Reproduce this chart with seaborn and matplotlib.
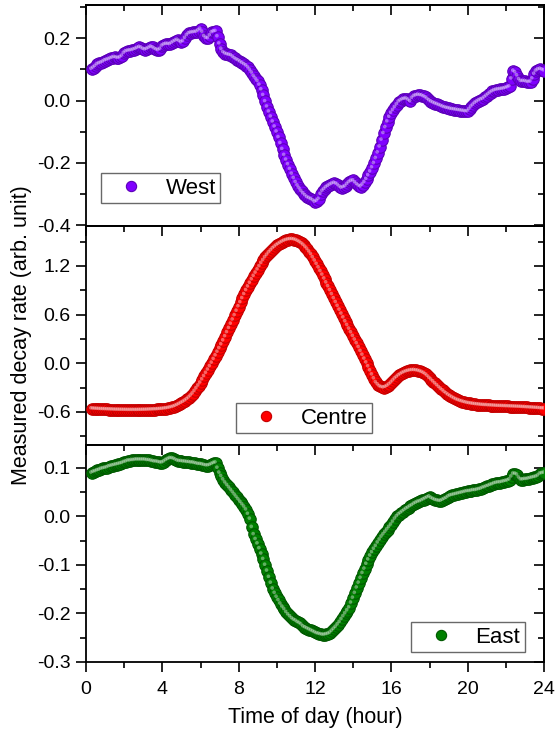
import numpy as np
import pandas as pd
import matplotlib
matplotlib.use("Agg")
import matplotlib.pyplot as plt
import seaborn as sns
from matplotlib.ticker import MultipleLocator, FormatStrFormatter
from matplotlib.lines import Line2D
from matplotlib.transforms import offset_copy

# ---------------- data ----------------
hours = np.round(np.arange(3, 241) * 0.1, 1)   # sampling grid 0.3 ... 24.0 h

west = [
    0.101, 0.105, 0.110, 0.116, 0.119, 0.121, 0.124, 0.128,
    0.130, 0.132, 0.135, 0.137, 0.139, 0.137, 0.136, 0.138, 0.143, 0.152,
    0.157, 0.159, 0.160, 0.161, 0.163, 0.165, 0.168, 0.171, 0.169, 0.165,
    0.163, 0.165, 0.168, 0.172, 0.170, 0.166, 0.163, 0.161, 0.165, 0.175,
    0.179, 0.181, 0.181, 0.180, 0.184, 0.188, 0.191, 0.194, 0.190, 0.186,
    0.190, 0.200, 0.209, 0.215, 0.217, 0.218, 0.219, 0.220, 0.224, 0.229,
    0.220, 0.206, 0.200, 0.199, 0.208, 0.218, 0.221, 0.222, 0.205, 0.182,
    0.165, 0.155, 0.150, 0.148, 0.146, 0.145, 0.140, 0.135, 0.131, 0.128,
    0.124, 0.120, 0.116, 0.112, 0.106, 0.098, 0.089, 0.078, 0.070, 0.062,
    0.050, 0.035, 0.017, -0.003, -0.020, -0.036, -0.052, -0.068, -0.084, -0.100,
    -0.118, -0.137, -0.156, -0.175, -0.190, -0.205, -0.220, -0.235, -0.249, -0.262,
    -0.273, -0.282, -0.291, -0.298, -0.304, -0.310, -0.313, -0.316, -0.320, -0.325,
    -0.322, -0.316, -0.300, -0.290, -0.284, -0.278, -0.274, -0.270, -0.267, -0.264,
    -0.266, -0.270, -0.276, -0.280, -0.278, -0.275, -0.268, -0.262, -0.258, -0.256,
    -0.262, -0.268, -0.273, -0.276, -0.270, -0.262, -0.252, -0.240, -0.228, -0.215,
    -0.201, -0.185, -0.167, -0.148, -0.126, -0.105, -0.086, -0.068, -0.053, -0.040,
    -0.031, -0.022, -0.013, -0.004, 0.000, 0.004, 0.005, 0.006, 0.002, -0.003,
    0.008, 0.014, 0.016, 0.018, 0.017, 0.016, 0.013, 0.010, 0.005, 0.000,
    -0.004, -0.007, -0.010, -0.012, -0.015, -0.017, -0.020, -0.022, -0.024, -0.025,
    -0.027, -0.028, -0.029, -0.030, -0.031, -0.032, -0.033, -0.034, -0.035, -0.035,
    -0.028, -0.020, -0.014, -0.008, -0.004, 0.000, 0.003, 0.005, 0.010, 0.015,
    0.020, 0.025, 0.029, 0.032, 0.034, 0.035, 0.036, 0.037, 0.038, 0.040,
    0.042, 0.045, 0.070, 0.095, 0.090, 0.080, 0.068, 0.062, 0.062, 0.062,
    0.060, 0.059, 0.060, 0.070, 0.085, 0.095, 0.099, 0.101, 0.099, 0.096,
]

centre = [
    -0.558, -0.560, -0.562, -0.563, -0.565, -0.566, -0.567, -0.568,
    -0.569, -0.570, -0.571, -0.572, -0.573, -0.574, -0.574, -0.575, -0.575, -0.576,
    -0.576, -0.577, -0.577, -0.577, -0.577, -0.577, -0.577, -0.576, -0.576, -0.575,
    -0.575, -0.574, -0.573, -0.572, -0.571, -0.570, -0.569, -0.567, -0.565, -0.563,
    -0.560, -0.557, -0.553, -0.548, -0.542, -0.535, -0.526, -0.515, -0.503, -0.490,
    -0.477, -0.462, -0.445, -0.425, -0.401, -0.375, -0.344, -0.310, -0.276, -0.240,
    -0.200, -0.160, -0.120, -0.080, -0.038, 0.005, 0.050, 0.095, 0.140, 0.185,
    0.232, 0.280, 0.330, 0.380, 0.432, 0.485, 0.537, 0.590, 0.645, 0.700,
    0.750, 0.800, 0.850, 0.900, 0.945, 0.990, 1.033, 1.075, 1.115, 1.155,
    1.195, 1.235, 1.270, 1.305, 1.335, 1.365, 1.390, 1.415, 1.435, 1.455,
    1.470, 1.485, 1.498, 1.510, 1.518, 1.525, 1.528, 1.530, 1.526, 1.520,
    1.508, 1.495, 1.478, 1.460, 1.436, 1.410, 1.378, 1.345, 1.305, 1.265,
    1.223, 1.180, 1.135, 1.090, 1.043, 0.995, 0.948, 0.900, 0.850, 0.800,
    0.753, 0.705, 0.658, 0.610, 0.563, 0.515, 0.470, 0.425, 0.380, 0.335,
    0.290, 0.245, 0.198, 0.150, 0.103, 0.055, 0.008, -0.040, -0.090, -0.140,
    -0.188, -0.235, -0.262, -0.285, -0.295, -0.300, -0.293, -0.280, -0.262, -0.240,
    -0.215, -0.190, -0.170, -0.150, -0.135, -0.120, -0.110, -0.100, -0.094, -0.088,
    -0.086, -0.085, -0.088, -0.092, -0.099, -0.108, -0.120, -0.135, -0.156, -0.180,
    -0.202, -0.225, -0.248, -0.270, -0.293, -0.315, -0.335, -0.355, -0.373, -0.390,
    -0.405, -0.420, -0.433, -0.445, -0.455, -0.463, -0.471, -0.478, -0.484, -0.490,
    -0.494, -0.498, -0.502, -0.505, -0.508, -0.510, -0.513, -0.515, -0.517, -0.518,
    -0.520, -0.521, -0.523, -0.524, -0.526, -0.527, -0.528, -0.529, -0.530, -0.531,
    -0.532, -0.533, -0.534, -0.535, -0.536, -0.537, -0.538, -0.539, -0.541, -0.542,
    -0.544, -0.545, -0.547, -0.548, -0.550, -0.551, -0.553, -0.555, -0.557, -0.558,
]

east = [
    0.090, 0.092, 0.093, 0.095, 0.096, 0.098, 0.099, 0.100,
    0.101, 0.103, 0.104, 0.105, 0.106, 0.107, 0.108, 0.109, 0.110, 0.112,
    0.113, 0.115, 0.115, 0.116, 0.116, 0.117, 0.117, 0.117, 0.117, 0.117,
    0.117, 0.116, 0.116, 0.115, 0.114, 0.113, 0.113, 0.112, 0.111, 0.111,
    0.113, 0.116, 0.118, 0.120, 0.120, 0.119, 0.117, 0.115, 0.114, 0.114,
    0.113, 0.113, 0.112, 0.112, 0.111, 0.111, 0.110, 0.109, 0.108, 0.108,
    0.107, 0.106, 0.105, 0.105, 0.106, 0.108, 0.110, 0.111, 0.100, 0.090,
    0.083, 0.076, 0.070, 0.065, 0.060, 0.055, 0.050, 0.045, 0.040, 0.035,
    0.030, 0.025, 0.020, 0.014, 0.005, -0.005, -0.022, -0.037, -0.047, -0.056,
    -0.066, -0.077, -0.088, -0.100, -0.112, -0.125, -0.137, -0.149, -0.158, -0.166,
    -0.173, -0.180, -0.186, -0.191, -0.197, -0.202, -0.206, -0.210, -0.213, -0.215,
    -0.218, -0.220, -0.223, -0.227, -0.229, -0.231, -0.233, -0.235, -0.237, -0.239,
    -0.241, -0.242, -0.243, -0.244, -0.244, -0.243, -0.242, -0.240, -0.236, -0.232,
    -0.228, -0.223, -0.218, -0.212, -0.206, -0.200, -0.194, -0.188, -0.178, -0.168,
    -0.158, -0.147, -0.137, -0.127, -0.117, -0.108, -0.098, -0.089, -0.081, -0.074,
    -0.067, -0.061, -0.054, -0.048, -0.042, -0.037, -0.032, -0.027, -0.022, -0.017,
    -0.011, -0.005, 0.000, 0.004, 0.007, 0.010, 0.013, 0.016, 0.018, 0.021,
    0.023, 0.026, 0.028, 0.030, 0.031, 0.033, 0.035, 0.037, 0.039, 0.041,
    0.038, 0.036, 0.034, 0.033, 0.032, 0.032, 0.034, 0.036, 0.038, 0.041,
    0.043, 0.044, 0.045, 0.046, 0.047, 0.048, 0.049, 0.050, 0.051, 0.052,
    0.052, 0.053, 0.054, 0.054, 0.055, 0.056, 0.057, 0.059, 0.060, 0.062,
    0.063, 0.065, 0.066, 0.068, 0.069, 0.070, 0.070, 0.071, 0.072, 0.073,
    0.074, 0.076, 0.082, 0.088, 0.088, 0.086, 0.080, 0.076, 0.076, 0.077,
    0.077, 0.078, 0.079, 0.080, 0.081, 0.082, 0.084, 0.088, 0.089, 0.090,
]

series_names = ["West", "Centre", "East"]
x_label = "Time of day (hour)"
y_label = "Measured decay rate (arb. unit)"

# ---------------- style ----------------
sns.set_style("ticks")
plt.rcParams["font.family"] = ["Liberation Sans", "DejaVu Sans"]
plt.rcParams["axes.unicode_minus"] = False
for key in ("text.color", "axes.labelcolor", "xtick.color", "ytick.color",
            "axes.edgecolor"):
    plt.rcParams[key] = "black"

fig = plt.figure(figsize=(5.58, 7.35), dpi=100)
W, H = 558, 735
left, width = 86 / W, 458 / W

panels = [
    dict(name=series_names[0], data=west, top=5, bottom=226, ylim=(-0.402, 0.306),
         major=0.2, minor=0.1, face="#8000ff", edge="#5c00b8", hl="#eadcff",
         anchor=(0.033, 0.104)),
    dict(name=series_names[1], data=centre, top=226, bottom=445, ylim=(-1.007, 1.693),
         major=0.6, minor=0.3, face="#ff0000", edge="#c40000", hl="#ffdada",
         anchor=(0.3275, 0.055)),
    dict(name=series_names[2], data=east, top=445, bottom=662, ylim=(-0.300, 0.1474),
         major=0.1, minor=0.05, face="#008000", edge="#005800", hl="#d8ecd8",
         anchor=(0.7096, 0.046)),
]

axes = []
for i, p in enumerate(panels):
    ax = fig.add_axes([left, 1 - p["bottom"] / H, width, (p["bottom"] - p["top"]) / H])
    axes.append(ax)
    df = pd.DataFrame({"hour": hours, "value": p["data"]})
    sns.scatterplot(data=df, x="hour", y="value", ax=ax, s=68, color=p["face"],
                    edgecolor=p["edge"], linewidth=0.8, legend=False, zorder=3)
    hl_tr = offset_copy(ax.transData, fig=fig, x=-0.8, y=0.8, units="dots")
    sns.scatterplot(data=df, x="hour", y="value", ax=ax, s=7, color=p["hl"],
                    edgecolor="none", linewidth=0, alpha=0.45, legend=False,
                    zorder=4, transform=hl_tr)

    ax.set_xlim(0, 24)
    ax.set_ylim(*p["ylim"])
    ax.xaxis.set_major_locator(MultipleLocator(4))
    ax.xaxis.set_minor_locator(MultipleLocator(2))
    ax.yaxis.set_major_locator(MultipleLocator(p["major"]))
    ax.yaxis.set_minor_locator(MultipleLocator(p["minor"]))
    ax.yaxis.set_major_formatter(FormatStrFormatter("%.1f"))
    ax.set_xlabel("")
    ax.set_ylabel("")
    for sp in ax.spines.values():
        sp.set_visible(True)
        sp.set_linewidth(1.3)
        sp.set_color("black")
    ax.tick_params(axis="both", which="major", direction="out", length=7, width=1.2,
                   labelsize=14, top=False, right=False, pad=4, colors="black")
    ax.tick_params(axis="both", which="minor", direction="out", length=4, width=1.2,
                   top=False, right=False)
    ax.tick_params(axis="x", which="major", pad=7)
    if i < 2:
        ax.tick_params(axis="x", labelbottom=False)

    # mirrored inward ticks on top and right
    sec_x = ax.secondary_xaxis("top")
    sec_x.xaxis.set_major_locator(MultipleLocator(4))
    sec_x.xaxis.set_minor_locator(MultipleLocator(2))
    sec_x.tick_params(which="major", direction="in", length=7, width=1.2, labeltop=False)
    sec_x.tick_params(which="minor", direction="in", length=4, width=1.2)
    sec_y = ax.secondary_yaxis("right")
    sec_y.yaxis.set_major_locator(MultipleLocator(p["major"]))
    sec_y.yaxis.set_minor_locator(MultipleLocator(p["minor"]))
    sec_y.tick_params(which="major", direction="in", length=7, width=1.2, labelright=False)
    sec_y.tick_params(which="minor", direction="in", length=4, width=1.2)
    for sec in (sec_x, sec_y):
        for sp in sec.spines.values():
            sp.set_linewidth(1.3)

    handle = Line2D([], [], linestyle="none", marker="o", markersize=7.4,
                    markerfacecolor=p["face"], markeredgecolor=p["edge"],
                    markeredgewidth=0.8)
    leg = ax.legend([handle], [p["name"]], loc="lower left",
                    bbox_to_anchor=p["anchor"], borderaxespad=0, fontsize=16,
                    frameon=True, fancybox=False, borderpad=0.2,
                    handlelength=2.3, handletextpad=0.4)
    leg.get_frame().set_edgecolor("#444444")
    leg.get_frame().set_linewidth(1.0)
    leg.set_zorder(10)

axes[2].set_xlabel(x_label, fontsize=15.5, labelpad=6)
fig.text(0.039, 1 - 335 / H, y_label, rotation=90, ha="center", va="center",
         fontsize=15.5)

fig.savefig("out.png", dpi=100)
